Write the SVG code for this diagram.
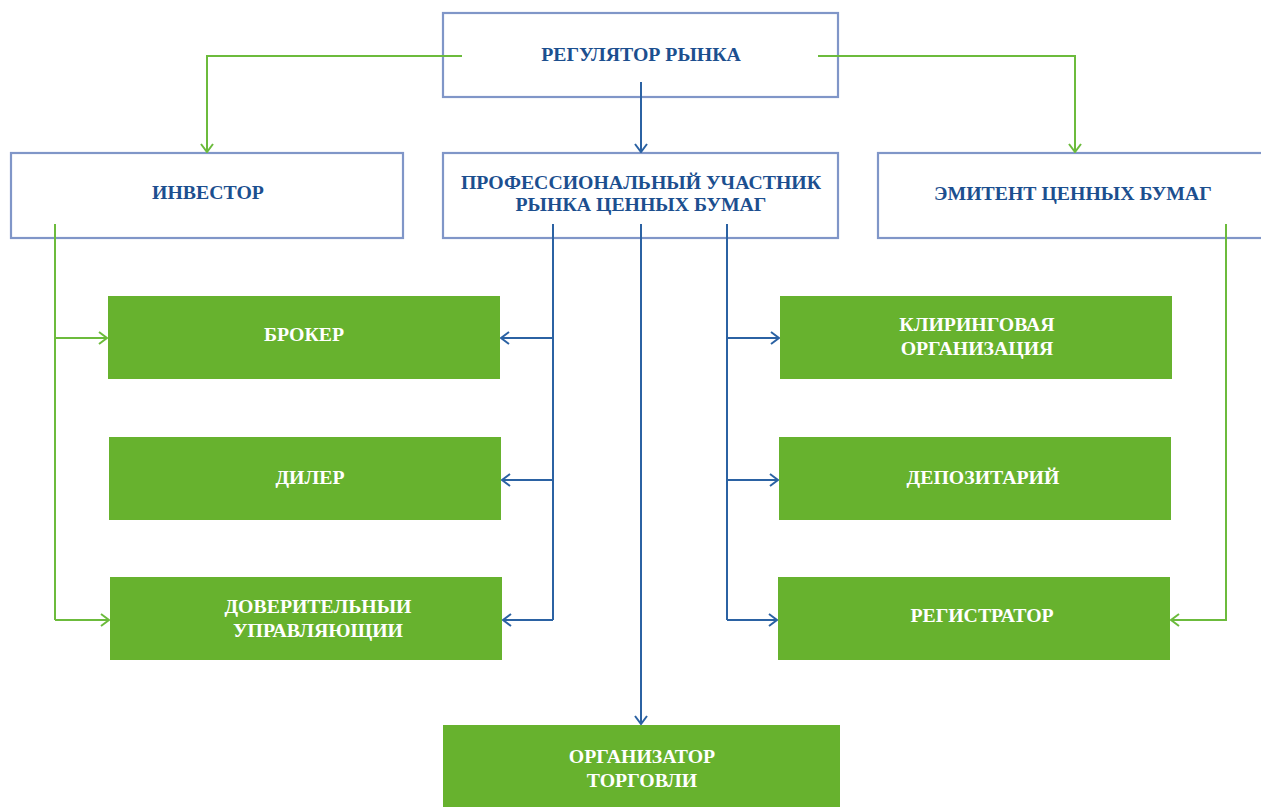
<svg xmlns="http://www.w3.org/2000/svg" width="1261" height="807" viewBox="0 0 1261 807">
<defs>
<style>
.ob{fill:#ffffff;stroke:#8096c8;stroke-width:2.2}
.gb{fill:#67b22e}
text{font-family:'Liberation Serif','DejaVu Serif',serif;font-weight:bold;font-size:19.8px;text-anchor:middle}
.bt{fill:#1c4f8f}
.wt{fill:#ffffff}
.gl{fill:none;stroke:#6cbb3c;stroke-width:2}
.bl{fill:none;stroke:#2b62a3;stroke-width:2}
</style>
<marker id="ag" viewBox="0 0 10 14" refX="9" refY="7" markerWidth="10" markerHeight="14" markerUnits="userSpaceOnUse" orient="auto">
<path d="M1,1 L9,7 L1,13" fill="none" stroke="#6cbb3c" stroke-width="2"/>
</marker>
<marker id="ab" viewBox="0 0 10 14" refX="9" refY="7" markerWidth="10" markerHeight="14" markerUnits="userSpaceOnUse" orient="auto">
<path d="M1,1 L9,7 L1,13" fill="none" stroke="#2b62a3" stroke-width="2"/>
</marker>
</defs>
<rect width="1261" height="807" fill="#ffffff"/>

<g id="regulator">
<rect class="ob" x="443" y="13" width="395" height="84"/>
<text class="bt" x="641" y="61">РЕГУЛЯТОР РЫНКА</text>
</g>
<g id="investor">
<rect class="ob" x="11" y="153" width="392" height="85"/>
<text class="bt" x="208" y="199">ИНВЕСТОР</text>
</g>
<g id="professional">
<rect class="ob" x="443" y="153" width="395" height="85"/>
<text class="bt" x="641" y="189">ПРОФЕССИОНАЛЬНЫЙ УЧАСТНИК</text>
<text class="bt" x="641" y="211">РЫНКА ЦЕННЫХ БУМАГ</text>
</g>
<g id="emitent">
<rect class="ob" x="878" y="153" width="386" height="85"/>
<text class="bt" x="1073" y="200">ЭМИТЕНТ ЦЕННЫХ БУМАГ</text>
</g>

<g id="broker">
<rect class="gb" x="108" y="296" width="392" height="83"/>
<text class="wt" x="304" y="341">БРОКЕР</text>
</g>
<g id="dealer">
<rect class="gb" x="109" y="437" width="392" height="83"/>
<text class="wt" x="310" y="484">ДИЛЕР</text>
</g>
<g id="trustee">
<rect class="gb" x="110" y="577" width="392" height="83"/>
<text class="wt" x="318" y="613">ДОВЕРИТЕЛЬНЫИ</text>
<text class="wt" x="318" y="637">УПРАВЛЯЮЩИИ</text>
</g>
<g id="clearing">
<rect class="gb" x="780" y="296" width="392" height="83"/>
<text class="wt" x="977" y="331">КЛИРИНГОВАЯ</text>
<text class="wt" x="977" y="355">ОРГАНИЗАЦИЯ</text>
</g>
<g id="depository">
<rect class="gb" x="779" y="437" width="392" height="83"/>
<text class="wt" x="983" y="484">ДЕПОЗИТАРИЙ</text>
</g>
<g id="registrar">
<rect class="gb" x="778" y="577" width="392" height="83"/>
<text class="wt" x="982" y="622">РЕГИСТРАТОР</text>
</g>
<g id="organizer">
<rect class="gb" x="443" y="725" width="397" height="82"/>
<text class="wt" x="642" y="763">ОРГАНИЗАТОР</text>
<text class="wt" x="642" y="787">ТОРГОВЛИ</text>
</g>

<g id="connectors">
<path class="gl" d="M462,56 H207 V152" marker-end="url(#ag)"/>
<path class="gl" d="M818,56 H1075 V152" marker-end="url(#ag)"/>
<path class="bl" d="M641,82 V152" marker-end="url(#ab)"/>
<path class="gl" d="M55,224 V620"/>
<path class="gl" d="M55,338 H107" marker-end="url(#ag)"/>
<path class="gl" d="M55,620 H109" marker-end="url(#ag)"/>
<path class="bl" d="M553,224 V620"/>
<path class="bl" d="M553,338 H501" marker-end="url(#ab)"/>
<path class="bl" d="M553,480 H502" marker-end="url(#ab)"/>
<path class="bl" d="M553,620 H503" marker-end="url(#ab)"/>
<path class="bl" d="M641,224 V724" marker-end="url(#ab)"/>
<path class="bl" d="M727,224 V620"/>
<path class="bl" d="M727,338 H779" marker-end="url(#ab)"/>
<path class="bl" d="M727,480 H778" marker-end="url(#ab)"/>
<path class="bl" d="M727,620 H777" marker-end="url(#ab)"/>
<path class="gl" d="M1226,224 V620 H1171" marker-end="url(#ag)"/>
</g>
</svg>
